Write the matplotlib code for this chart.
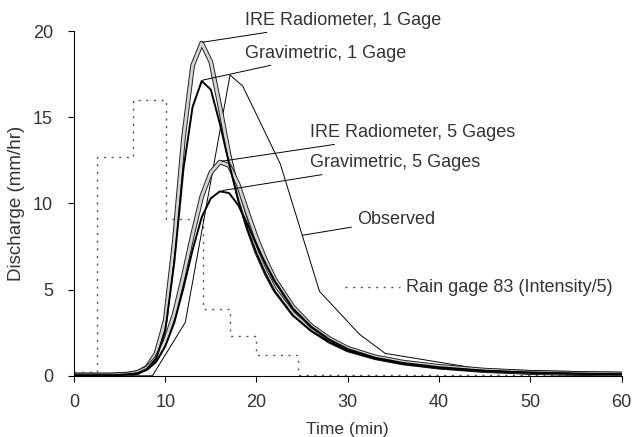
"""Simulated vs observed hydrographs with rain gage intensity."""

import matplotlib.pyplot as plt

# simulated hydrographs (min, mm/hr)
t_sim = [0, 4, 6, 7, 8, 9, 10, 11, 12, 13, 14, 15, 16, 17, 18, 19, 20, 21, 22,
         24, 26, 28, 30, 33, 36, 40, 45, 50, 55, 60]
ire_1 = [0.05, 0.05, 0.1, 0.2, 0.5, 1.3, 3.2, 7.8, 13.8, 18.0, 19.3, 18.2, 15.6,
         12.8, 10.5, 8.7, 7.2, 6.0, 5.0, 3.6, 2.7, 2.0, 1.5, 1.05, 0.75, 0.5,
         0.3, 0.2, 0.14, 0.1]
grav_1 = [0.03, 0.03, 0.08, 0.15, 0.4, 1.0, 2.6, 6.6, 12.0, 15.6, 17.1, 16.6,
          14.6, 12.3, 10.2, 8.5, 7.1, 5.9, 4.9, 3.5, 2.6, 1.95, 1.45, 1.0, 0.7,
          0.45, 0.28, 0.18, 0.12, 0.08]
ire_5 = [0.04, 0.04, 0.1, 0.2, 0.45, 1.0, 2.0, 3.6, 5.8, 8.2, 10.4, 11.8, 12.4,
         12.2, 11.1, 9.5, 8.0, 6.7, 5.6, 4.0, 2.9, 2.15, 1.6, 1.1, 0.8, 0.55,
         0.33, 0.2, 0.14, 0.1]
grav_5 = [0.03, 0.03, 0.08, 0.15, 0.35, 0.8, 1.7, 3.1, 5.1, 7.3, 9.2, 10.3,
          10.7, 10.6, 9.9, 8.8, 7.6, 6.5, 5.5, 3.9, 2.85, 2.1, 1.55, 1.05, 0.75,
          0.5, 0.3, 0.19, 0.13, 0.09]

# observed hydrograph
t_obs = [0, 8.6, 12.2, 17.1, 18.5, 22.6, 26.9, 31.3, 34.1, 44.5, 60]
q_obs = [0, 0, 3.1, 17.45, 16.8, 12.3, 4.9, 2.4, 1.3, 0.4, 0.05]

# rain gage 83, intensity / 5 (step edges)
t_rain = [0, 2.5, 6.5, 10.1, 14.1, 17.1, 20.0, 24.5, 60]
i_rain = [0.2, 12.7, 16.0, 9.1, 3.9, 2.3, 1.2, 0.05, 0.05]

TXT = "#333333"
FS = 13

plt.rcParams["font.family"] = ["Liberation Sans", "DejaVu Sans"]

fig = plt.figure(figsize=(6.37, 4.37), dpi=100)
ax = fig.add_axes([0.116, 0.14, 0.86, 0.789])

ax.step(t_rain, i_rain, where="post", color="#555555", lw=1.0,
        linestyle=(0, (1.5, 4)))
ax.plot(t_obs, q_obs, color="black", lw=0.7)


def band(x, y):
    # gray band with dark outline
    ax.plot(x, y, color="#222222", lw=3.4, solid_joinstyle="round")
    ax.plot(x, y, color="#d4d4d4", lw=2.0, solid_joinstyle="round")


band(t_sim, ire_1)
band(t_sim, ire_5)
ax.plot(t_sim, grav_1, color="black", lw=1.4)
ax.plot(t_sim, grav_5, color="black", lw=1.4)

ann = dict(arrowprops=dict(arrowstyle="-", color="black", lw=0.7,
                           shrinkA=2, shrinkB=0),
           fontsize=FS, color=TXT, va="center", ha="left",
           annotation_clip=False)
ax.annotate("IRE Radiometer, 1 Gage", xy=(14.1, 19.35), xytext=(18.7, 20.6),
            **ann)
ax.annotate("Gravimetric, 1 Gage", xy=(14.1, 17.15), xytext=(18.7, 18.7), **ann)
ax.annotate("IRE Radiometer, 5 Gages", xy=(16.2, 12.45), xytext=(25.9, 14.1),
            **ann)
ax.annotate("Gravimetric, 5 Gages", xy=(16.3, 10.75), xytext=(25.9, 12.35),
            **ann)
ax.annotate("Observed", xy=(25.0, 8.15), xytext=(31.0, 9.05), **ann)

ax.plot([29.7, 35.7], [5.15, 5.15], color="#555555", lw=1.0,
        linestyle=(0, (1.5, 4)))
ax.text(36.4, 5.15, "Rain gage 83 (Intensity/5)", fontsize=FS, color=TXT,
        va="center", ha="left")

ax.set_xlim(0, 60)
ax.set_ylim(0, 20)
ax.set_xticks(range(0, 61, 10))
ax.set_yticks(range(0, 21, 5))
ax.spines["top"].set_visible(False)
ax.spines["right"].set_visible(False)
for s in ("left", "bottom"):
    ax.spines[s].set_linewidth(0.8)
ax.tick_params(direction="out", length=4, width=0.8, labelsize=FS,
               labelcolor=TXT)
ax.tick_params(axis="y", pad=11)
ax.tick_params(axis="x", pad=9)
ax.set_xlabel("Time (min)", fontsize=12.5, color=TXT, labelpad=8)
ax.set_ylabel("Discharge (mm/hr)", fontsize=13.5, color=TXT, labelpad=6)

fig.savefig("out.png", dpi=100)
